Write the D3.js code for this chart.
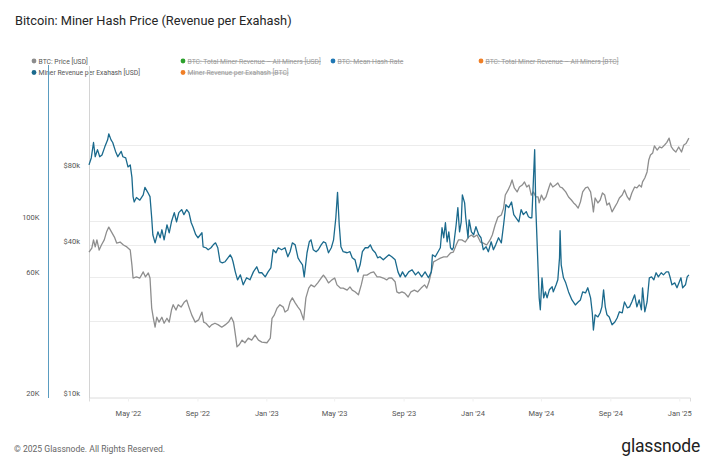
<!DOCTYPE html>
<html><head><meta charset="utf-8">
<script src="https://cdn.jsdelivr.net/npm/d3@7"></script>
<style>body{margin:0;background:#fff} svg{display:block}</style>
</head><body>
<svg id="c" width="710" height="458"></svg>
<script>
// ---------- data ----------
const hashDates = ["2022-02-21","2022-02-25","2022-03-01","2022-03-04","2022-03-08","2022-03-12","2022-03-16","2022-03-21","2022-03-26","2022-03-28","2022-04-01","2022-04-04","2022-04-09","2022-04-13","2022-04-19","2022-04-22","2022-04-27","2022-05-01","2022-05-05","2022-05-08","2022-05-10","2022-05-12","2022-05-16","2022-05-22","2022-05-28","2022-05-31","2022-06-05","2022-06-09","2022-06-12","2022-06-14","2022-06-18","2022-06-23","2022-06-27","2022-06-30","2022-07-04","2022-07-09","2022-07-13","2022-07-17","2022-07-22","2022-07-26","2022-07-30","2022-08-04","2022-08-08","2022-08-13","2022-08-17","2022-08-21","2022-08-24","2022-08-29","2022-09-02","2022-09-09","2022-09-11","2022-09-16","2022-09-20","2022-09-25","2022-09-29","2022-10-03","2022-10-07","2022-10-11","2022-10-15","2022-10-20","2022-10-25","2022-10-29","2022-11-01","2022-11-03","2022-11-07","2022-11-11","2022-11-16","2022-11-21","2022-11-27","2022-12-03","2022-12-09","2022-12-15","2022-12-19","2022-12-24","2022-12-30","2023-01-04","2023-01-09","2023-01-13","2023-01-18","2023-01-22","2023-01-28","2023-02-03","2023-02-08","2023-02-12","2023-02-16","2023-02-21","2023-02-26","2023-03-02","2023-03-06","2023-03-09","2023-03-14","2023-03-18","2023-03-21","2023-03-25","2023-03-30","2023-04-03","2023-04-08","2023-04-12","2023-04-16","2023-04-21","2023-04-26","2023-04-30","2023-05-04","2023-05-07","2023-05-10","2023-05-13","2023-05-17","2023-05-24","2023-05-29","2023-06-02","2023-06-07","2023-06-12","2023-06-16","2023-06-20","2023-06-25","2023-06-30","2023-07-04","2023-07-08","2023-07-13","2023-07-17","2023-07-21","2023-07-27","2023-08-02","2023-08-06","2023-08-11","2023-08-17","2023-08-22","2023-08-26","2023-08-30","2023-09-04","2023-09-10","2023-09-16","2023-09-22","2023-09-27","2023-10-03","2023-10-09","2023-10-15","2023-10-20","2023-10-22","2023-10-27","2023-11-01","2023-11-05","2023-11-08","2023-11-11","2023-11-14","2023-11-17","2023-11-20","2023-11-23","2023-11-26","2023-11-28","2023-12-03","2023-12-06","2023-12-09","2023-12-12","2023-12-14","2023-12-18","2023-12-20","2023-12-24","2023-12-26","2023-12-30","2024-01-03","2024-01-07","2024-01-12","2024-01-16","2024-01-20","2024-01-25","2024-01-29","2024-02-03","2024-02-07","2024-02-11","2024-02-16","2024-02-21","2024-02-25","2024-02-29","2024-03-05","2024-03-10","2024-03-14","2024-03-18","2024-03-23","2024-03-27","2024-03-31","2024-04-05","2024-04-09","2024-04-12","2024-04-15","2024-04-20","2024-04-22","2024-04-24","2024-04-26","2024-04-28","2024-04-30","2024-05-03","2024-05-06","2024-05-09","2024-05-12","2024-05-16","2024-05-21","2024-05-23","2024-05-28","2024-05-31","2024-06-03","2024-06-04","2024-06-06","2024-06-10","2024-06-14","2024-06-19","2024-06-25","2024-07-01","2024-07-06","2024-07-10","2024-07-14","2024-07-19","2024-07-23","2024-07-28","2024-07-31","2024-08-02","2024-08-05","2024-08-10","2024-08-14","2024-08-17","2024-08-20","2024-08-23","2024-08-26","2024-08-30","2024-09-04","2024-09-09","2024-09-13","2024-09-17","2024-09-22","2024-09-26","2024-10-01","2024-10-05","2024-10-09","2024-10-14","2024-10-18","2024-10-22","2024-10-26","2024-10-28","2024-11-01","2024-11-05","2024-11-09","2024-11-13","2024-11-17","2024-11-21","2024-11-25","2024-11-30","2024-12-04","2024-12-09","2024-12-13","2024-12-16","2024-12-19","2024-12-24","2024-12-28","2025-01-01","2025-01-04","2025-01-07","2025-01-12","2025-01-15","2025-01-18"];
// Miner Revenue per Exahash [USD], thousands
const hashPriceK = [167,178,205,180,192,180,183,197,210,222,210,205,189,180,189,180,178,164,167,149,125,119,124,121,127,136,130,125,103,88.2,81.9,90.6,85.8,92.3,84.2,96.6,89.8,99.3,108,99.3,108,111,106,111,108,98.4,94.9,88.2,85.8,89.8,79.0,78.3,76.9,78.3,80.4,81.9,78.3,68.9,68.2,68.9,71.4,73.4,71.4,68.9,62.8,58.4,61.1,55.8,59.5,58.4,62.8,65.8,62.3,62.3,60.0,62.8,65.2,76.9,74.8,78.3,76.9,78.3,72.1,75.5,81.9,80.4,71.4,68.9,67.0,60.0,74.8,82.7,84.2,76.9,75.5,76.9,80.4,82.7,81.9,74.8,78.3,84.2,103,130,96.6,79.0,75.5,74.8,75.5,71.4,70.1,62.8,67.0,75.5,78.3,78.3,80.4,76.9,74.8,71.4,72.1,70.1,72.1,73.4,72.1,70.1,62.8,60.0,62.8,60.0,62.8,64.0,61.1,62.8,60.0,62.8,59.5,62.8,73.4,72.1,75.5,78.3,94.0,85.8,98.4,82.7,90.6,78.3,76.9,78.3,96.6,113,90.6,99.3,127,118,103,85.8,101,90.6,88.2,94.9,88.2,85.8,76.9,79.0,75.5,82.7,76.9,80.4,85.8,81.9,96.6,116,113,119,106,103,99.3,111,106,109,104,103,103,192,113,85.8,65,49.5,44.4,59.5,49.5,52.3,49.5,53.3,54.8,52.3,55.8,58.4,71.4,91.5,67.0,59.5,56.8,52.3,48.6,46.4,47.7,48.6,52.3,51.8,54.3,49.5,43.2,36.9,42.4,41.6,43.2,45.6,53.3,45.6,42.4,41.6,38.7,39.7,41.2,43.6,43.2,47.7,45.2,45.6,47.7,50.9,45.6,48.6,44.4,54.3,43.6,47.7,59.5,60.0,58.4,62.3,60.0,62.3,61.1,62.8,62.8,59.5,55.8,56.8,54.3,57.3,59.5,54.3,55.8,60.0,61.1];

const priceDates = ["2022-02-21","2022-02-26","2022-03-01","2022-03-04","2022-03-07","2022-03-11","2022-03-15","2022-03-20","2022-03-24","2022-03-28","2022-04-02","2022-04-07","2022-04-11","2022-04-17","2022-04-23","2022-04-29","2022-05-05","2022-05-08","2022-05-10","2022-05-16","2022-05-22","2022-05-28","2022-06-01","2022-06-06","2022-06-09","2022-06-12","2022-06-15","2022-06-18","2022-06-21","2022-06-25","2022-06-30","2022-07-04","2022-07-09","2022-07-13","2022-07-17","2022-07-20","2022-07-25","2022-07-29","2022-08-03","2022-08-09","2022-08-13","2022-08-17","2022-08-22","2022-08-28","2022-09-03","2022-09-09","2022-09-12","2022-09-16","2022-09-22","2022-09-26","2022-10-02","2022-10-08","2022-10-14","2022-10-20","2022-10-26","2022-10-31","2022-11-04","2022-11-08","2022-11-10","2022-11-14","2022-11-19","2022-11-24","2022-11-30","2022-12-06","2022-12-12","2022-12-18","2022-12-24","2023-01-02","2023-01-08","2023-01-11","2023-01-15","2023-01-20","2023-01-25","2023-01-31","2023-02-03","2023-02-08","2023-02-12","2023-02-16","2023-02-21","2023-02-26","2023-03-02","2023-03-08","2023-03-12","2023-03-17","2023-03-21","2023-03-27","2023-04-02","2023-04-08","2023-04-12","2023-04-16","2023-04-21","2023-04-27","2023-05-02","2023-05-06","2023-05-12","2023-05-17","2023-05-24","2023-05-29","2023-06-02","2023-06-07","2023-06-13","2023-06-18","2023-06-22","2023-06-28","2023-07-04","2023-07-10","2023-07-16","2023-07-21","2023-07-27","2023-08-02","2023-08-06","2023-08-11","2023-08-17","2023-08-20","2023-08-24","2023-08-29","2023-09-03","2023-09-09","2023-09-14","2023-09-20","2023-09-26","2023-10-02","2023-10-08","2023-10-12","2023-10-16","2023-10-20","2023-10-24","2023-10-30","2023-11-05","2023-11-11","2023-11-17","2023-11-23","2023-11-28","2023-12-03","2023-12-07","2023-12-13","2023-12-19","2023-12-25","2023-12-30","2024-01-03","2024-01-09","2024-01-15","2024-01-20","2024-01-26","2024-02-01","2024-02-05","2024-02-10","2024-02-15","2024-02-21","2024-02-25","2024-02-28","2024-03-04","2024-03-08","2024-03-11","2024-03-15","2024-03-20","2024-03-24","2024-03-29","2024-04-02","2024-04-06","2024-04-10","2024-04-14","2024-04-18","2024-04-22","2024-04-26","2024-04-28","2024-05-02","2024-05-06","2024-05-10","2024-05-15","2024-05-18","2024-05-22","2024-05-27","2024-05-31","2024-06-04","2024-06-08","2024-06-14","2024-06-19","2024-06-24","2024-06-28","2024-07-02","2024-07-06","2024-07-10","2024-07-14","2024-07-19","2024-07-23","2024-07-28","2024-07-31","2024-08-02","2024-08-05","2024-08-10","2024-08-14","2024-08-18","2024-08-22","2024-08-26","2024-08-30","2024-09-04","2024-09-09","2024-09-13","2024-09-17","2024-09-22","2024-09-26","2024-10-01","2024-10-05","2024-10-09","2024-10-14","2024-10-18","2024-10-22","2024-10-26","2024-10-28","2024-11-01","2024-11-05","2024-11-08","2024-11-11","2024-11-15","2024-11-18","2024-11-23","2024-11-27","2024-12-01","2024-12-06","2024-12-10","2024-12-14","2024-12-18","2024-12-22","2024-12-26","2024-12-31","2025-01-05","2025-01-09","2025-01-13","2025-01-18"];
// BTC: Price [USD], thousands
const btcPriceK = [37.5,38.9,41.9,39.3,41.9,38.2,40.0,41.9,45.0,47.1,45.0,43.0,40.7,41.1,40.0,39.3,38.2,33.3,29.6,29.9,29.6,31.3,29.9,31.0,29.6,22.5,20.5,18.9,20.7,19.8,20.7,19.6,20.5,19.8,22.1,23.2,22.1,23.2,22.7,23.8,24.2,22.7,21.1,19.8,20.2,21.7,19.8,19.6,18.9,19.3,19.6,19.3,18.9,19.3,19.8,20.7,19.8,17.1,15.8,16.1,16.8,16.4,17.1,16.8,17.6,16.8,16.5,16.4,17.1,20.5,21.1,22.5,23.2,22.7,21.7,22.1,23.8,24.7,23.6,22.7,22.1,20.2,24.7,27.0,27.8,27.3,28.3,29.6,30.4,29.6,28.3,29.1,29.6,27.8,27.0,27.0,26.5,27.3,26.5,26.1,25.4,27.8,30.4,30.4,31.0,31.3,29.9,29.9,29.6,29.1,29.6,29.6,28.6,26.1,25.8,26.1,25.8,24.9,26.1,26.5,26.1,27.0,27.8,27.0,28.6,31.3,34.3,34.9,35.5,35.9,35.9,37.2,37.5,40.0,41.9,41.9,41.1,43.0,43.8,43.0,43.8,41.1,40.7,40.0,41.9,43.8,48.0,51.6,52.6,56.0,63.1,66.1,69.1,72.4,67.3,64.9,67.9,69.1,71.1,67.9,69.1,63.1,64.9,62.0,62.0,58.7,63.1,60.3,62.0,67.3,70.4,67.9,69.1,70.4,67.9,67.3,64.9,62.0,60.3,58.7,57.6,56.0,59.2,64.9,67.3,67.9,64.9,58.7,54.1,61.4,58.7,60.3,64.3,63.1,57.6,58.7,54.1,56.6,58.7,61.4,63.1,66.1,62.0,60.3,64.3,67.9,67.3,69.1,67.9,71.1,73.7,77.9,86.8,90.9,92.6,98.7,95.1,97.8,97.0,99.6,102,106,97.8,95.1,93.4,97.8,93.4,99.6,101,106];

const xTickDates = ["2022-05-01","2022-09-01","2023-01-01","2023-05-01","2023-09-01","2024-01-01","2024-05-01","2024-09-01","2025-01-01"];
const hashTicksK = [20, 60, 100];
const hashGridK = [60, 100, 200];
const priceTicksK = [10, 40, 80];
const priceGridK = [20, 40, 80];
const legendRow1 = ["BTC: Price [USD]","BTC: Total Miner Revenue – All Miners [USD]","BTC: Mean Hash Rate","BTC: Total Miner Revenue – All Miners [BTC]"];
const legendRow2 = ["Miner Revenue per Exahash [USD]","Miner Revenue per Exahash [BTC]"];

// ---------- drawing ----------
const FONT = "Roboto, 'Open Sans', sans-serif";
const svg = d3.select("#c").style("font-family", FONT);
const parse = d3.utcParse("%Y-%m-%d");
const L = 89, R = 690, T = 66, B = 397;
const x = d3.scaleUtc().domain([parse("2022-02-21"), parse("2025-01-20")]).range([L, R]);
const yP = d3.scaleLog().domain([10, 80]).range([B, 169]);
const yH = d3.scaleLog().domain([20, 100]).range([B, 221]);

// title
svg.append("text").attr("x", 15).attr("y", 24.5).attr("font-size", 12.8).attr("fill", "#262626")
  .text("Bitcoin: Miner Hash Price (Revenue per Exahash)");

// legend
const lg = svg.append("g").attr("font-size", 6.8);
const row1Colors = ["#8c8c8c", "#2ca02c", "#1f77b4", "#f07f26"];
const row1X = [34, 183, 333, 481];
legendRow1.forEach((t, i) => {
  lg.append("circle").attr("cx", row1X[i]).attr("cy", 61).attr("r", 2.4).attr("fill", row1Colors[i]);
  lg.append("text").attr("x", row1X[i] + 4.5).attr("y", 63.5).attr("fill", i === 0 ? "#555" : "#9a9a9a")
    .attr("text-decoration", i === 0 ? null : "line-through").text(t);
});
const row2Colors = ["#1b6a8d", "#f07f26"];
const row2X = [34, 183];
legendRow2.forEach((t, i) => {
  lg.append("circle").attr("cx", row2X[i]).attr("cy", 72.5).attr("r", 2.4).attr("fill", row2Colors[i]);
  lg.append("text").attr("x", row2X[i] + 4.5).attr("y", 75).attr("fill", i === 0 ? "#555" : "#9a9a9a")
    .attr("text-decoration", i === 0 ? null : "line-through").text(t);
});

// gridlines
const grid = svg.append("g").attr("stroke", "#ececec").attr("stroke-width", 1);
priceGridK.forEach(v => grid.append("line").attr("x1", L).attr("x2", R).attr("y1", Math.round(yP(v)) + 0.5).attr("y2", Math.round(yP(v)) + 0.5));
hashGridK.forEach(v => grid.append("line").attr("x1", L).attr("x2", R).attr("y1", Math.round(yH(v)) + 0.5).attr("y2", Math.round(yH(v)) + 0.5));

// x axis
const xAxis = d3.axisBottom(x).tickValues(xTickDates.map(parse)).tickFormat(d3.utcFormat("%b '%y")).tickSize(4).tickPadding(9);
const gx = svg.append("g").attr("transform", `translate(0,${B + 0.5})`).call(xAxis);
gx.select(".domain").attr("stroke", "#dcdcdc");
gx.selectAll(".tick line").attr("stroke", "#f0f0f0");
gx.selectAll(".tick text").attr("font-size", 7.5).attr("fill", "#555").attr("font-family", FONT);

// price axis (middle)
const pAxis = d3.axisLeft(yP).tickValues(priceTicksK).tickFormat(d => "$" + d + "k").tickSize(0).tickPadding(9);
const gp = svg.append("g").attr("transform", `translate(${L},0)`).call(pAxis);
gp.select(".domain").remove();
gp.selectAll(".tick text").attr("font-size", 7.5).attr("fill", "#555").attr("font-family", FONT).attr("dy", "-0.25em");
svg.append("line").attr("x1", L + 0.5).attr("x2", L + 0.5).attr("y1", T).attr("y2", B + 1).attr("stroke", "#d4d4d4");

// hash axis (left)
const hAxis = d3.axisLeft(yH).tickValues(hashTicksK).tickFormat(d => d + "K").tickSize(0).tickPadding(9);
const gh = svg.append("g").attr("transform", `translate(48.5,0)`).call(hAxis);
gh.select(".domain").remove();
gh.selectAll(".tick text").attr("font-size", 7.5).attr("fill", "#555").attr("font-family", FONT).attr("dy", "-0.25em");
svg.append("line").attr("x1", 48.5).attr("x2", 48.5).attr("y1", T - 1).attr("y2", B + 1).attr("stroke", "#5a9cc0").attr("stroke-width", 1);

// lines
const priceData = priceDates.map((d, i) => ({ d: parse(d), v: btcPriceK[i] }));
const hashData = hashDates.map((d, i) => ({ d: parse(d), v: hashPriceK[i] }));
svg.append("path").datum(priceData).attr("fill", "none").attr("stroke", "#8e8e8e").attr("stroke-width", 1.3)
  .attr("stroke-linejoin", "round").attr("d", d3.line().x(p => x(p.d)).y(p => yP(p.v)));
svg.append("path").datum(hashData).attr("fill", "none").attr("stroke", "#1b6a8d").attr("stroke-width", 1.3)
  .attr("stroke-linejoin", "round").attr("d", d3.line().x(p => x(p.d)).y(p => yH(p.v)));

// footer
svg.append("text").attr("x", 14).attr("y", 452).attr("font-size", 8.6).attr("fill", "#666")
  .text("© 2025 Glassnode. All Rights Reserved.");
svg.append("text").attr("x", 700).attr("y", 452).attr("text-anchor", "end").attr("font-size", 17.5).attr("fill", "#222")
  .attr("letter-spacing", "-0.2").text("glassnode");
</script>
</body></html>
